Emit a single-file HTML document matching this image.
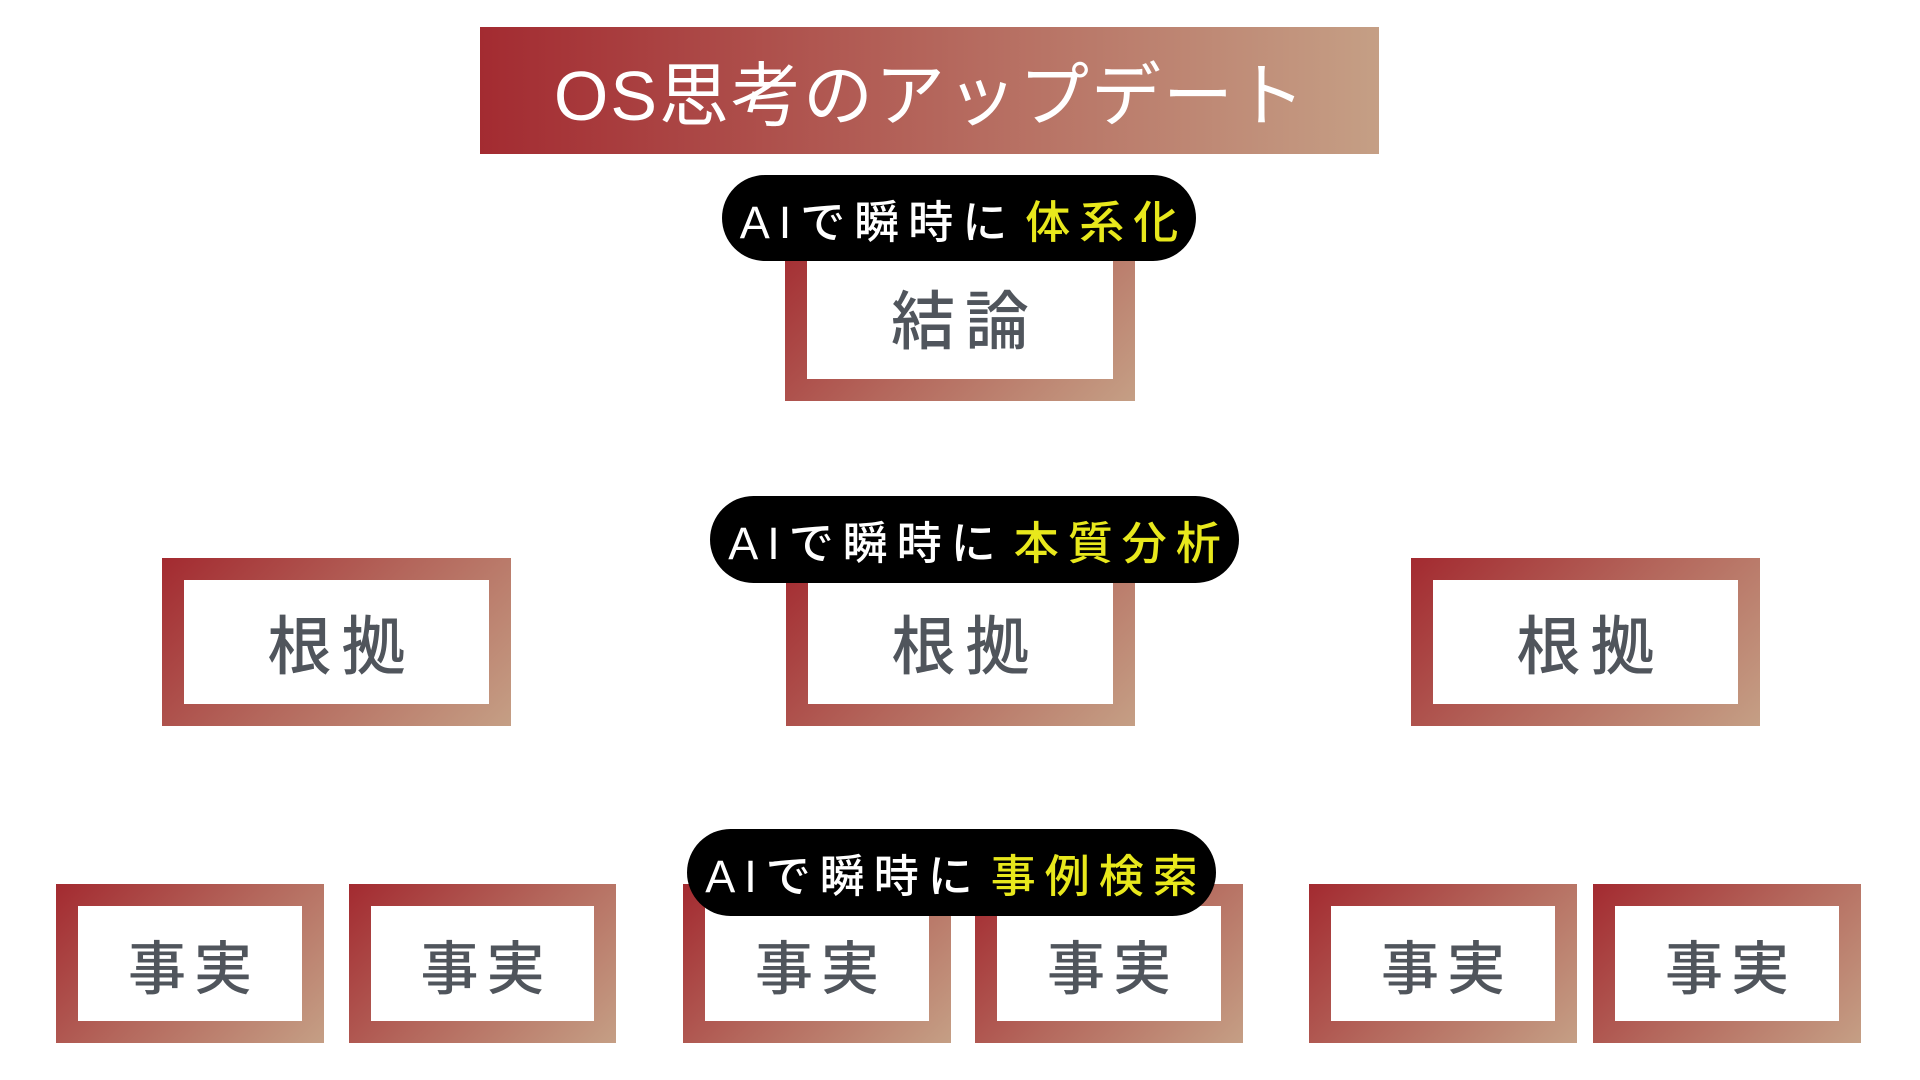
<!DOCTYPE html>
<html><head><meta charset="utf-8"><style>
body{margin:0;width:1920px;height:1080px;background:#fff;position:relative;overflow:hidden;font-family:"Liberation Sans","Noto Sans CJK JP",sans-serif}
.t{position:absolute;left:480px;top:27px;width:899px;height:127px;background:linear-gradient(90deg,#a32b31,#c59f85);color:#fff;font-size:70px;display:flex;align-items:center;justify-content:center;letter-spacing:2px;text-indent:2px}
.b{position:absolute;box-sizing:border-box;background:linear-gradient(135deg,#a32a30,#b4675c 50%,#c59f85);padding:22px}
.b div{background:#fff;width:100%;height:100%;display:flex;align-items:center;justify-content:center;color:#50555c;letter-spacing:10px;text-indent:10px;font-weight:500}
.p{position:absolute;background:#000;border-radius:44px;color:#fff;font-size:45px;display:flex;align-items:center;justify-content:center;letter-spacing:9px;text-indent:9px;font-weight:500}
.p span{color:#e8e81c}
.f{font-size:58px;letter-spacing:8px!important;text-indent:8px!important}
</style></head><body>
<div class="t">OS思考のアップデート</div>
<div class="b" style="left:785px;top:233px;width:350px;height:168px"><div style="font-size:64px">結論</div></div>
<div class="p" style="left:722px;top:175px;width:474px;height:86px">AIで瞬時に<span>体系化</span></div>
<div class="b" style="left:162px;top:558px;width:349px;height:168px"><div style="font-size:64px">根拠</div></div>
<div class="b" style="left:786px;top:558px;width:349px;height:168px"><div style="font-size:64px">根拠</div></div>
<div class="b" style="left:1411px;top:558px;width:349px;height:168px"><div style="font-size:64px">根拠</div></div>
<div class="p" style="left:710px;top:496px;width:529px;height:87px">AIで瞬時に<span>本質分析</span></div>
<div class="b" style="left:56px;top:884px;width:268px;height:159px"><div class="f">事実</div></div>
<div class="b" style="left:349px;top:884px;width:267px;height:159px"><div class="f">事実</div></div>
<div class="b" style="left:683px;top:884px;width:268px;height:159px"><div class="f">事実</div></div>
<div class="b" style="left:975px;top:884px;width:268px;height:159px"><div class="f">事実</div></div>
<div class="b" style="left:1309px;top:884px;width:268px;height:159px"><div class="f">事実</div></div>
<div class="b" style="left:1593px;top:884px;width:268px;height:159px"><div class="f">事実</div></div>
<div class="p" style="left:687px;top:829px;width:529px;height:87px">AIで瞬時に<span>事例検索</span></div>
</body></html>
